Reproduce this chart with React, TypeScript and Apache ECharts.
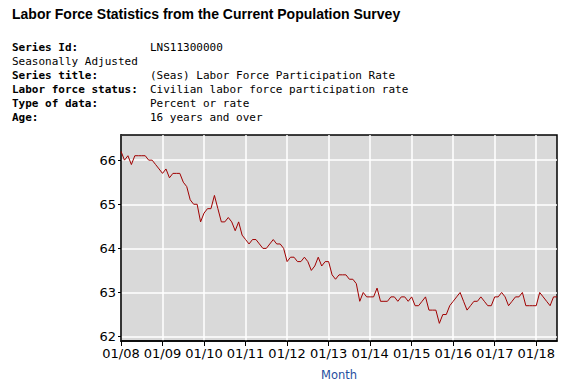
import React, { useEffect, useRef } from "react";
import * as echarts from "echarts";

const TITLE = "Labor Force Statistics from the Current Population Survey";
const HEADER_LABELS = [
  "Series Id:",
  "Seasonally Adjusted",
  "Series title:",
  "Labor force status:",
  "Type of data:",
  "Age:",
];
const HEADER_BOLD = [true, false, true, true, true, true];
const HEADER_VALUES = [
  "LNS11300000",
  "",
  "(Seas) Labor Force Participation Rate",
  "Civilian labor force participation rate",
  "Percent or rate",
  "16 years and over",
];

const YEARS = ["08", "09", "10", "11", "12", "13", "14", "15", "16", "17", "18"];
const MONTH_NUMS = ["01", "02", "03", "04", "05", "06", "07", "08", "09", "10", "11", "12"];

const v2008 = [66.2, 66.0, 66.1, 65.9, 66.1, 66.1, 66.1, 66.1, 66.0, 66.0, 65.9, 65.8];
const v2009 = [65.7, 65.8, 65.6, 65.7, 65.7, 65.7, 65.5, 65.4, 65.1, 65.0, 65.0, 64.6];
const v2010 = [64.8, 64.9, 64.9, 65.2, 64.9, 64.6, 64.6, 64.7, 64.6, 64.4, 64.6, 64.3];
const v2011 = [64.2, 64.1, 64.2, 64.2, 64.1, 64.0, 64.0, 64.1, 64.2, 64.1, 64.1, 64.0];
const v2012 = [63.7, 63.8, 63.8, 63.7, 63.7, 63.8, 63.7, 63.5, 63.6, 63.8, 63.6, 63.7];
const v2013 = [63.7, 63.4, 63.3, 63.4, 63.4, 63.4, 63.3, 63.3, 63.2, 62.8, 63.0, 62.9];
const v2014 = [62.9, 62.9, 63.1, 62.8, 62.8, 62.8, 62.9, 62.9, 62.8, 62.9, 62.9, 62.8];
const v2015 = [62.9, 62.7, 62.7, 62.8, 62.9, 62.6, 62.6, 62.6, 62.3, 62.5, 62.5, 62.7];
const v2016 = [62.8, 62.9, 63.0, 62.8, 62.6, 62.7, 62.8, 62.8, 62.9, 62.8, 62.7, 62.7];
const v2017 = [62.9, 62.9, 63.0, 62.9, 62.7, 62.8, 62.9, 62.9, 63.0, 62.7, 62.7, 62.7];
const v2018 = [62.7, 63.0, 62.9, 62.8, 62.7, 62.9, 62.9];

const VALUES = [
  ...v2008, ...v2009, ...v2010, ...v2011, ...v2012, ...v2013,
  ...v2014, ...v2015, ...v2016, ...v2017, ...v2018,
];

const MONTHS: string[] = [];
YEARS.forEach((y) => MONTH_NUMS.forEach((m) => MONTHS.push(`${m}/${y}`)));
const CATEGORIES = MONTHS.slice(0, VALUES.length);

export default function App() {
  const ref = useRef<HTMLDivElement>(null);

  useEffect(() => {
    if (!ref.current) return;
    const chart = echarts.init(ref.current, undefined, { renderer: "svg" });
    const mono = '"DejaVu Sans Mono", monospace';
    const graphic: any[] = [
      {
        type: "text",
        x: 12,
        y: 13.5,
        style: {
          text: TITLE,
          font: 'bold 14px "Liberation Sans", Arial, sans-serif',
          fill: "#000",
          verticalAlign: "middle",
        },
      },
    ];
    HEADER_LABELS.forEach((lab, i) => {
      graphic.push({
        type: "text",
        x: 12,
        y: 47 + 14 * i,
        style: {
          text: lab,
          font: `${HEADER_BOLD[i] ? "bold " : ""}11px ${mono}`,
          fill: "#000",
          verticalAlign: "middle",
        },
      });
      if (HEADER_VALUES[i]) {
        graphic.push({
          type: "text",
          x: 150,
          y: 47 + 14 * i,
          style: {
            text: HEADER_VALUES[i],
            font: `11px ${mono}`,
            fill: "#000",
            verticalAlign: "middle",
          },
        });
      }
    });

    chart.setOption({
      animation: false,
      graphic,
      grid: {
        left: 121,
        top: 135,
        width: 436,
        height: 206,
        show: true,
        backgroundColor: "#d9d9d9",
        borderColor: "#000",
        borderWidth: 1.5,
      },
      xAxis: {
        type: "category",
        data: CATEGORIES,
        boundaryGap: false,
        axisLine: { lineStyle: { color: "#000", width: 1.5 } },
        axisTick: { interval: 11, length: 5, lineStyle: { color: "#000", width: 1 } },
        axisLabel: {
          interval: 11,
          color: "#000",
          fontFamily: "DejaVu Sans",
          fontSize: 13,
          margin: 6,
        },
        splitLine: { show: true, interval: 11, lineStyle: { color: "#fff", width: 1.5 } },
        name: "Month",
        nameLocation: "middle",
        nameGap: 28,
        nameTextStyle: { color: "#1f4fa0", fontFamily: "DejaVu Sans", fontSize: 11.5 },
      },
      yAxis: {
        type: "value",
        min: 61.9,
        max: 66.57,
        splitNumber: 5,
        minInterval: 1,
        maxInterval: 1,
        axisLine: { show: true, lineStyle: { color: "#000", width: 1.5 } },
        axisTick: { show: true, length: 3, lineStyle: { color: "#000", width: 1 } },
        axisLabel: {
          color: "#000",
          fontFamily: "DejaVu Sans",
          fontSize: 13,
          margin: 5,
          showMinLabel: false,
          showMaxLabel: false,
          formatter: (v: number) => (Number.isInteger(v) ? String(v) : ""),
        },
        splitLine: {
          show: true,
          showMinLine: false,
          showMaxLine: false,
          lineStyle: { color: "#fff", width: 1.5 },
        },
      },
      series: [
        {
          type: "line",
          data: VALUES,
          symbol: "none",
          showSymbol: false,
          lineStyle: { color: "#a00000", width: 1 },
        },
      ],
    });
    return () => chart.dispose();
  }, []);

  return (
    <div
      ref={ref}
      style={{ position: "absolute", left: 0, top: 0, width: 588, height: 392, background: "#fff" }}
    />
  );
}
